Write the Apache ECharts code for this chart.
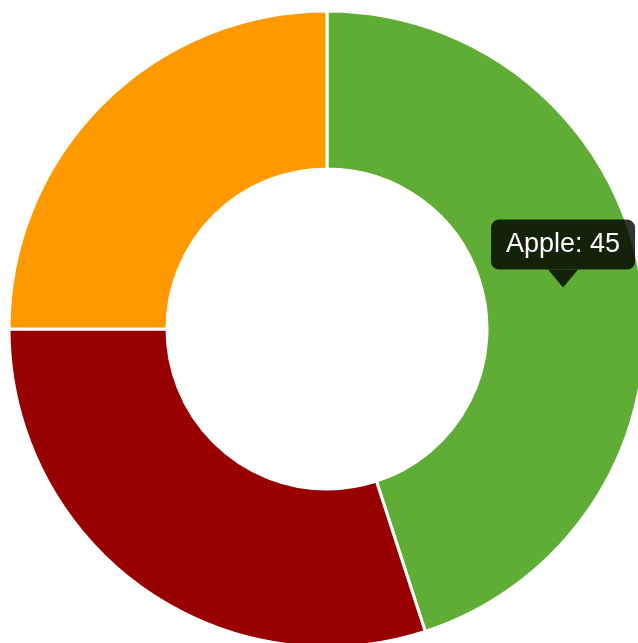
<!DOCTYPE html>
<html>
<head>
<meta charset="utf-8">
<style>
  html, body { margin: 0; padding: 0; background: #fff; }
  #chart { width: 638px; height: 643px; }
</style>
<script src="https://cdn.jsdelivr.net/npm/echarts@6/dist/echarts.min.js"></script>
</head>
<body>
<div id="chart"></div>
<script>
// Fruit shares, drawn clockwise from twelve o'clock
const categories = ['Apple', 'Cherry', 'Orange'];
const values = [45, 30, 25];
const colors = ['#5fad35', '#990000', '#ff9900'];

// Ring geometry (pixels)
const CENTER = [327, 329];
const INNER_R = 160;
const OUTER_R = 318;

// Slice whose callout is shown
const highlighted = 0;

const chart = echarts.init(document.getElementById('chart'), null, { renderer: 'canvas' });

// Callout anchored at the centroid of the highlighted slice
const total = values.reduce((a, b) => a + b, 0);
let before = 0;
for (let i = 0; i < highlighted; i++) before += values[i];
const midFrac = (before + values[highlighted] / 2) / total;
const midAngle = midFrac * 2 * Math.PI;            // clockwise from top
const midR = (INNER_R + OUTER_R) / 2;
const tipX = CENTER[0] + midR * Math.sin(midAngle);
const tipY = CENTER[1] - midR * Math.cos(midAngle) - 4;

const caretH = 18, caretHalf = 15;
const boxW = 144, boxH = 50;
const calloutText = categories[highlighted] + ': ' + values[highlighted];

chart.setOption({
  animation: false,
  backgroundColor: '#fff',
  series: [{
    type: 'pie',
    center: CENTER,
    radius: [INNER_R, OUTER_R],
    startAngle: 90,
    clockwise: true,
    label: { show: false },
    labelLine: { show: false },
    emphasis: { disabled: true },
    silent: true,
    z: 2,
    itemStyle: { borderColor: '#fff', borderWidth: 3 },
    data: categories.map((name, i) => ({
      name: name,
      value: values[i],
      itemStyle: { color: colors[i] }
    }))
  }],
  graphic: {
    elements: [{
      type: 'group',
      x: tipX,
      y: tipY,
      z: 100,
      zlevel: 1,
      children: [
        {
          type: 'rect',
          z: 100,
          shape: { x: -boxW / 2, y: -caretH - boxH, width: boxW, height: boxH, r: 8 },
          style: { fill: 'rgba(0,0,0,0.8)' }
        },
        {
          type: 'polygon',
          z: 100,
          shape: { points: [[-caretHalf, -caretH], [caretHalf, -caretH], [0, 0]] },
          style: { fill: 'rgba(0,0,0,0.8)' }
        },
        {
          type: 'text',
          z: 101,
          x: 0,
          y: -caretH - boxH / 2,
          style: {
            text: calloutText,
            fill: '#fff',
            font: '27px "Liberation Sans", Arial, sans-serif',
            align: 'center',
            verticalAlign: 'middle'
          }
        }
      ]
    }]
  }
});
</script>
</body>
</html>
